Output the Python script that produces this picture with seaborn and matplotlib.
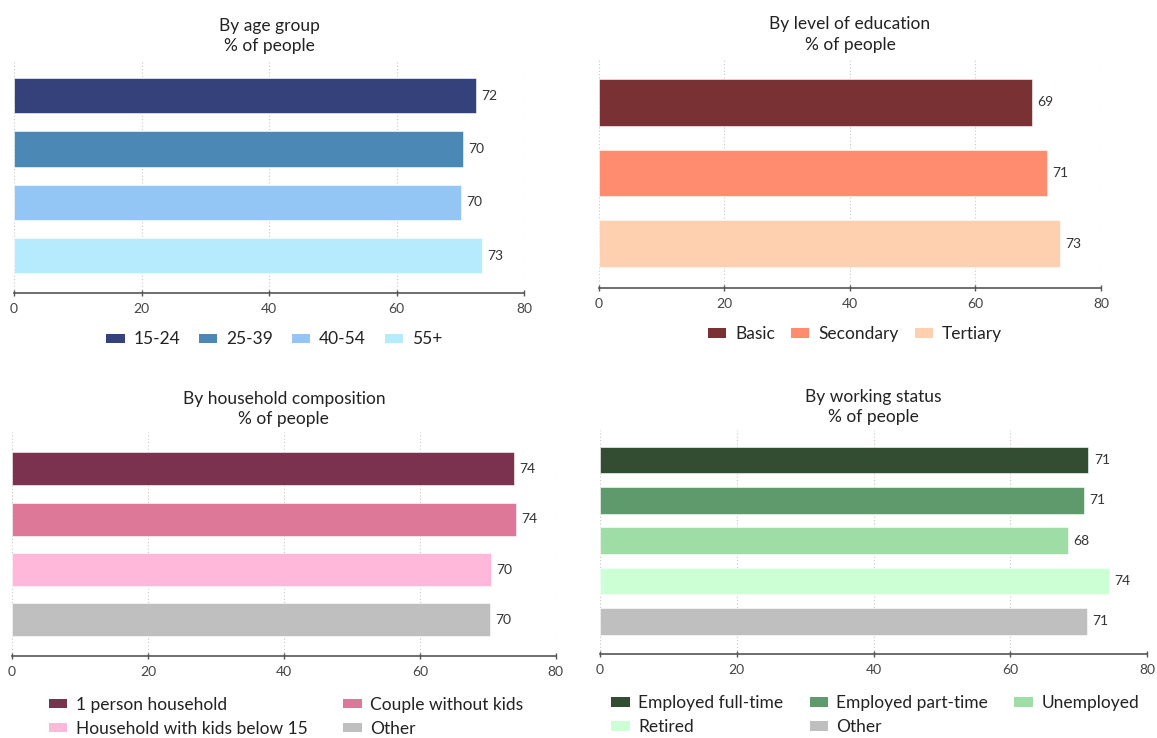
import matplotlib
matplotlib.use("Agg")
import matplotlib.pyplot as plt
from matplotlib.patches import Patch
import seaborn as sns
import pandas as pd

# ---- data ----
age_cats = ["15-24", "25-39", "40-54", "55+"]
age_vals = [72.4, 70.4, 70.1, 73.4]
age_cols = ["#34417a", "#4b88b6", "#93c6f5", "#b5ebfc"]

edu_cats = ["Basic", "Secondary", "Tertiary"]
edu_vals = [69.0, 71.4, 73.4]
edu_cols = ["#7a3133", "#ff8c6e", "#ffd0b0"]

hh_cats = ["1 person household", "Couple without kids", "Household with kids below 15", "Other"]
hh_vals = [73.8, 74.1, 70.4, 70.3]
hh_cols = ["#7a324f", "#dd7898", "#ffb8da", "#bfbfbf"]

ws_cats = ["Employed full-time", "Employed part-time", "Unemployed", "Retired", "Other"]
ws_vals = [71.4, 70.8, 68.4, 74.4, 71.2]
ws_cols = ["#334d33", "#5e9a6c", "#9edda6", "#ccffd4", "#bfbfbf"]

x_ticks = [0, 20, 40, 60, 80]

sns.set_theme(style="white")
plt.rcParams["font.family"] = ["Lato", "DejaVu Sans"]

fig = plt.figure(figsize=(11.57, 7.38), dpi=100)

def panel(rect, title, cats, vals, cols, ylim):
    ax = fig.add_axes(rect)
    df = pd.DataFrame({"cat": cats, "val": vals})
    sns.barplot(data=df, x="val", y="cat", hue="cat", palette=cols, orient="h",
                width=0.66, legend=False, ax=ax, edgecolor="white", linewidth=0.4,
                saturation=1)
    for cont, v in zip(ax.containers, vals):
        ax.bar_label(cont, labels=[f"{round(v):.0f}"], padding=4, fontsize=10, color="#333333")
    ax.set_xlim(0, 80)
    ax.set_ylim(*ylim)
    ax.set_xticks(x_ticks)
    ax.set_xticklabels([str(t) for t in x_ticks], fontsize=10, color="#444444")
    ax.set_yticks([])
    ax.set_xlabel("")
    ax.set_ylabel("")
    for s in ["top", "right", "left"]:
        ax.spines[s].set_visible(False)
    ax.spines["bottom"].set_color("#555555")
    ax.spines["bottom"].set_linewidth(1.2)
    ax.tick_params(axis="x", direction="inout", length=5, width=1, color="#555555", pad=5, bottom=True)
    ax.grid(axis="x", linestyle=(0, (1, 2)), color="#c8c8c8", linewidth=0.8)
    ax.set_axisbelow(True)
    ax.set_title(title, fontsize=12.5, color="#222222", pad=6, linespacing=1.32)
    return ax

ax1 = panel([0.0121, 0.603, 0.4408, 0.316], "By age group\n% of people",
            age_cats, age_vals, age_cols, (3.7, -0.67))
ax2 = panel([0.5177, 0.6098, 0.4339, 0.3117], "By level of education\n% of people",
            edu_cats, edu_vals, edu_cols, (2.63, -0.63))
ax3 = panel([0.0104, 0.111, 0.470, 0.3035], "By household composition\n% of people",
            hh_cats, hh_vals, hh_cols, (3.72, -0.73))
ax4 = panel([0.5186, 0.1138, 0.4728, 0.3035], "By working status\n% of people",
            ws_cats, ws_vals, ws_cols, (4.81, -0.745))

def make_legend(cats, cols, order, ncol, anchor, loc, colsp):
    handles = [Patch(facecolor=cols[i], edgecolor="none") for i in order]
    labels = [cats[i] for i in order]
    fig.legend(handles, labels, loc=loc, bbox_to_anchor=anchor, ncol=ncol,
               frameon=False, fontsize=12.5, handlelength=1.05, handleheight=0.46,
               handletextpad=0.5, columnspacing=colsp, labelspacing=0.45,
               labelcolor="#222222")

make_legend(age_cats, age_cols, [0, 1, 2, 3], 4, (0.237, 0.540), "center", 1.1)
make_legend(edu_cats, edu_cols, [0, 1, 2], 3, (0.739, 0.547), "center", 0.95)
make_legend(hh_cats, hh_cols, [0, 2, 1, 3], 2, (0.029, 0.077), "upper left", 2.05)
make_legend(ws_cats, ws_cols, [0, 3, 1, 4, 2], 3, (0.515, 0.079), "upper left", 1.5)

fig.savefig("out.png", dpi=100, facecolor="white")
